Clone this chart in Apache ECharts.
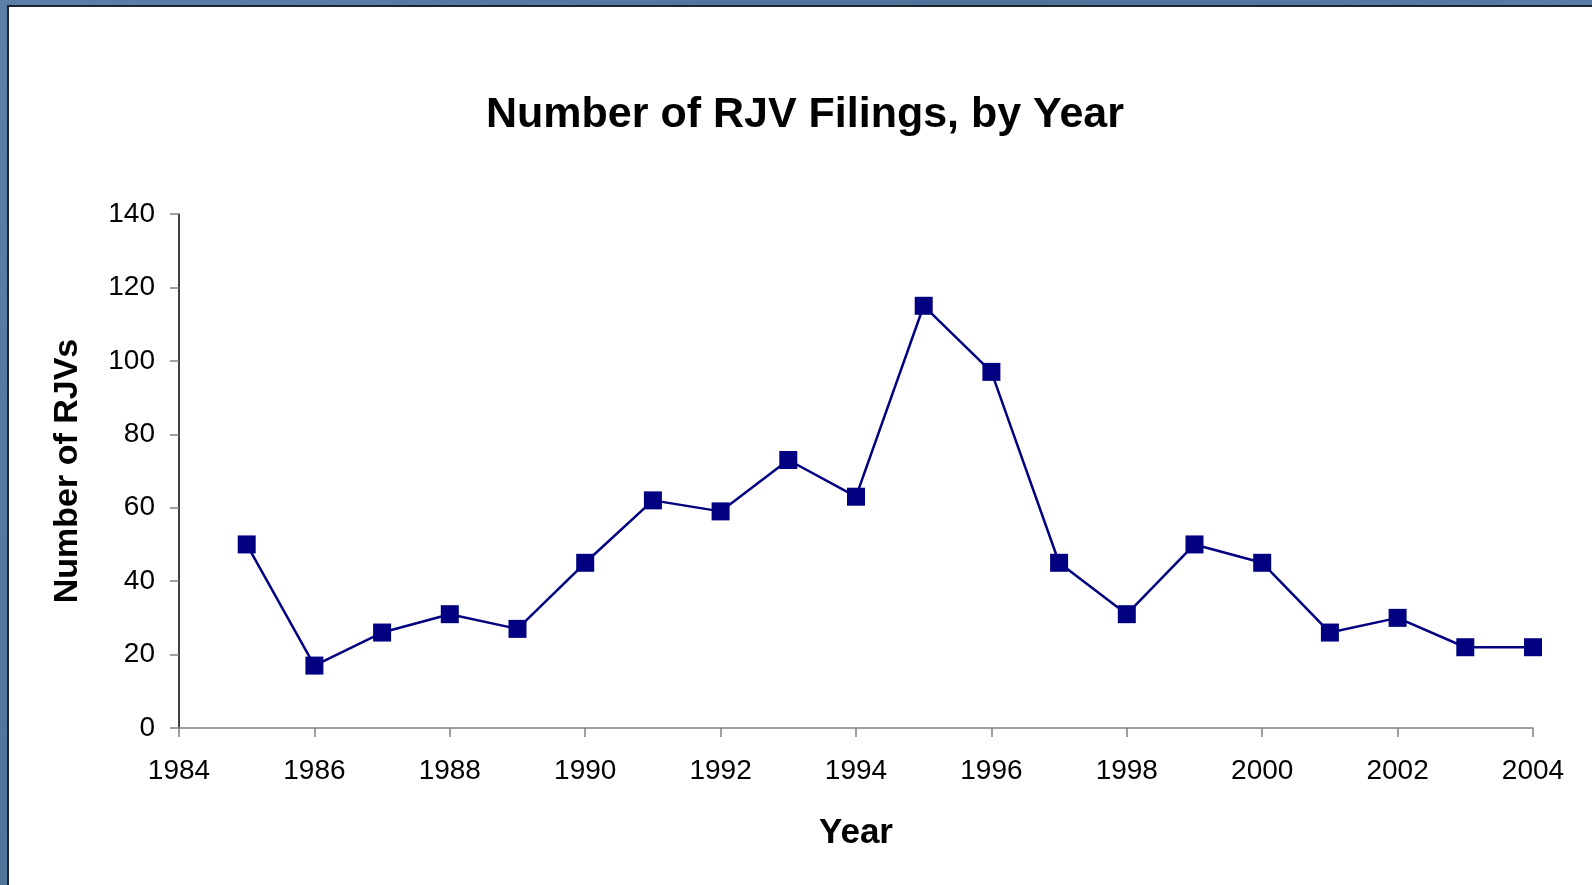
<!DOCTYPE html>
<html>
<head>
<meta charset="utf-8">
<title>Number of RJV Filings, by Year</title>
<script src="https://cdn.jsdelivr.net/npm/echarts@6/dist/echarts.min.js"></script>
<style>
  html, body { margin: 0; padding: 0; width: 1592px; height: 885px; overflow: hidden; }
  body {
    background: linear-gradient(135deg, #5b80a8 0%, #4f7299 40%, #5a7ea6 70%, #4c6f96 100%);
    position: relative;
  }
  #panel {
    position: absolute; left: 7px; top: 5px; right: 0; bottom: 0;
    background: #ffffff;
    border-left: 2px solid #1c2531;
    border-top: 2px solid #1c2531;
  }
  #chart { position: absolute; left: 0; top: 0; width: 1592px; height: 885px; }
</style>
</head>
<body>
<div id="panel"></div>
<div id="chart"></div>
<script>
// Research joint venture filings per year
const years = [1985, 1986, 1987, 1988, 1989, 1990, 1991, 1992, 1993, 1994,
               1995, 1996, 1997, 1998, 1999, 2000, 2001, 2002, 2003, 2004];
const filings = [50, 17, 26, 31, 27, 45, 62, 59, 73, 63,
                 115, 97, 45, 31, 50, 45, 26, 30, 22, 22];

const chart = echarts.init(document.getElementById('chart'), null, { renderer: 'canvas' });
const font = '"Liberation Sans", Arial, sans-serif';

chart.setOption({
  backgroundColor: 'transparent',
  animation: false,
  title: {
    text: 'Number of RJV Filings, by Year',
    left: 800,
    textAlign: 'center',
    top: 89,
    textStyle: { fontFamily: font, fontWeight: 'bold', fontSize: 43, color: '#000' }
  },
  grid: { left: 179, right: 59, top: 214, bottom: 157 },
  xAxis: {
    type: 'value',
    min: 1984, max: 2004, interval: 2,
    name: 'Year',
    nameLocation: 'middle',
    nameGap: 88,
    nameTextStyle: { fontFamily: font, fontWeight: 'bold', fontSize: 35, color: '#000' },
    axisLine: { show: true, onZero: false, lineStyle: { color: '#808080', width: 1.5 } },
    axisTick: { show: true, length: 9, inside: false, lineStyle: { color: '#808080', width: 1.5 } },
    splitLine: { show: false },
    axisLabel: {
      fontFamily: font, fontSize: 28, color: '#000', margin: 29,
      formatter: v => String(v)
    }
  },
  yAxis: {
    type: 'value',
    min: 0, max: 140, interval: 20,
    name: 'Number of RJVs',
    nameLocation: 'middle',
    nameGap: 94,
    nameTextStyle: { fontFamily: font, fontWeight: 'bold', fontSize: 34, color: '#000' },
    axisLine: { show: true, lineStyle: { color: '#000', width: 1.5 } },
    axisTick: { show: true, length: 9, lineStyle: { color: '#808080', width: 1.5 } },
    splitLine: { show: false },
    axisLabel: { fontFamily: font, fontSize: 28, color: '#000', margin: 24 }
  },
  series: [{
    type: 'line',
    data: years.map((y, i) => [y, filings[i]]),
    symbol: 'rect',
    symbolSize: 18,
    showAllSymbol: true,
    lineStyle: { color: '#000080', width: 2.5 },
    itemStyle: { color: '#000080', borderColor: '#000080', borderWidth: 0 },
    z: 3
  }]
});
</script>
</body>
</html>
